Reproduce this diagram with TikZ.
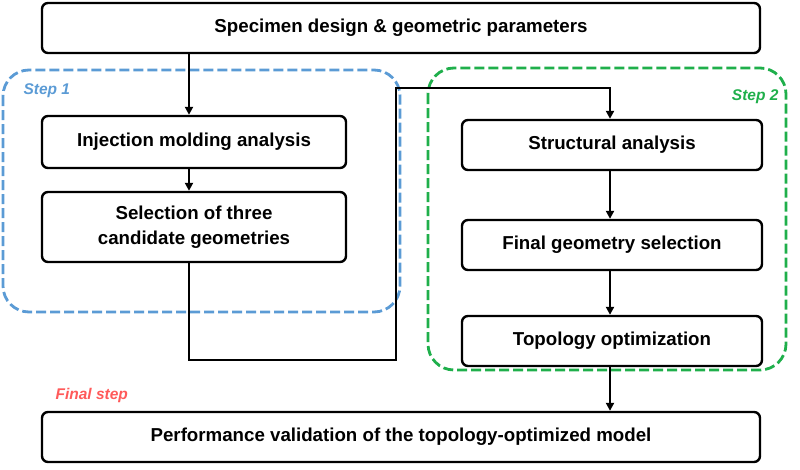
\documentclass[tikz,border=0pt]{standalone}
\usepackage{fontspec}
\setmainfont{Liberation Sans}
\usetikzlibrary{arrows.meta,positioning}
\definecolor{sblue}{HTML}{5B9BD5}
\definecolor{sgreen}{HTML}{1FAF4B}
\definecolor{sred}{HTML}{FF5A5A}
\begin{document}
\begin{tikzpicture}[x=1pt,y=-1pt,
  box/.style={draw,line width=2.4pt,rounded corners=6pt,font=\fontsize{18.7}{25}\selectfont\bfseries,align=center,inner sep=0},
  grp/.style={line width=2.8pt,dash pattern=on 10pt off 4pt,rounded corners=26pt},
  arr/.style={line width=2.4pt,-{Triangle[length=8pt,width=8pt]}},
  lab/.style={font=\fontsize{15.5}{18}\selectfont\bfseries\itshape}]
\useasboundingbox (0,0) rectangle (800,469);
\draw[grp,sblue] (3,70) rectangle (400,312);
\draw[grp,sgreen] (428,68) rectangle (786,370);
\node[lab,text=sblue,anchor=west] (s1) at (20,91) {Step 1};
\node[lab,text=sgreen,anchor=east] (s2) at (782,97) {Step 2};
\node[lab,text=sred,anchor=west] (s3) at (52,395) {Final step};
\node[box,minimum width=718pt,minimum height=50pt] (top) at (401,28) {Specimen design \& geometric parameters};
\node[box,minimum width=304pt,minimum height=52pt] (inj) at (194,142) {Injection molding analysis};
\node[box,minimum width=304pt,minimum height=70pt] (sel) at (194,227) {Selection of three\\candidate geometries};
\node[box,minimum width=300pt,minimum height=50pt] (str) at (612,145) {Structural analysis};
\node[box,minimum width=300pt,minimum height=50pt] (fin) at (612,245) {Final geometry selection};
\node[box,minimum width=300pt,minimum height=50pt] (top2) at (612,341) {Topology optimization};
\node[box,minimum width=718pt,minimum height=50pt] (bot) at (401,437) {Performance validation of the topology-optimized model};
\coordinate (c1) at (189,360);
\coordinate (c2) at (396,360);
\coordinate (c3) at (396,88);
\coordinate (c4) at (610,88);
\draw[arr] (top.south -| 189,0) -- (inj.north -| 189,0);
\draw[arr] (inj.south -| 189,0) -- (sel.north -| 189,0);
\draw[arr] (sel.south -| 189,0) -- (c1) -- (c2) -- (c3) -- (c4) -- (str.north -| c4);
\draw[arr] (str.south -| c4) -- (fin.north -| c4);
\draw[arr] (fin.south -| c4) -- (top2.north -| c4);
\draw[arr] (top2.south -| c4) -- (bot.north -| c4);
\end{tikzpicture}
\end{document}
